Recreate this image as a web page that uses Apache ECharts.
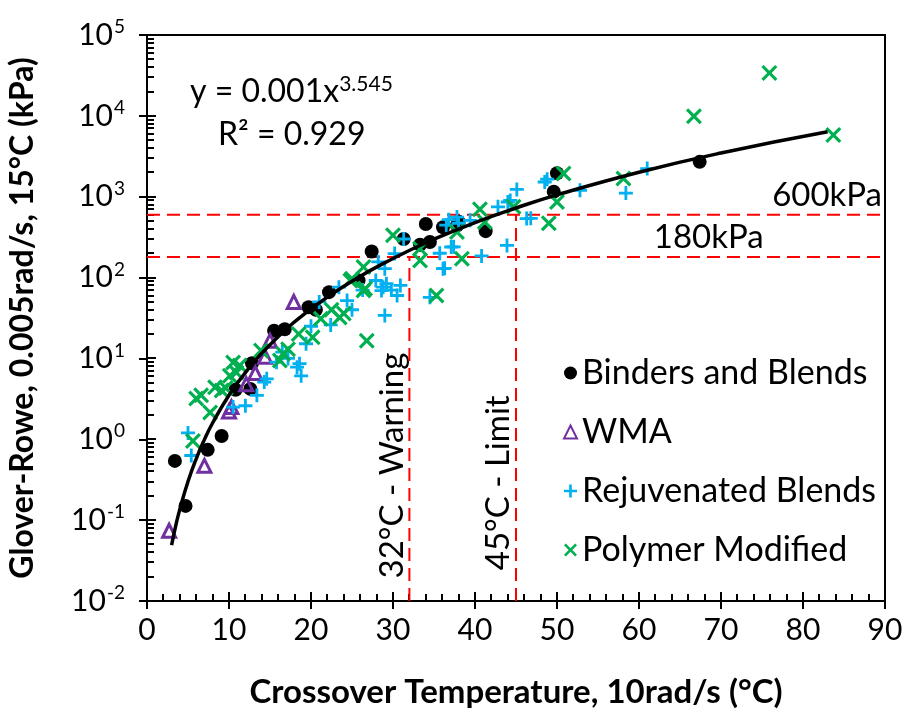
<!DOCTYPE html>
<html><head><meta charset="utf-8">
<script src="https://cdn.jsdelivr.net/npm/echarts@6/dist/echarts.min.js"></script>
<style>html,body{margin:0;padding:0;background:#fff}#c{width:912px;height:712px}</style>
</head><body><div id="c"></div>
<script>
// ---- data ----
const binders = [[3.4,0.54],[4.7,0.15],[7.4,0.74],[9.1,1.1],[10.8,4.1],[12.6,4.2],[12.8,8.7],[15.5,22],[16.8,23],[19.7,43],[20.6,40],[22.2,66],[25.8,92],[27.4,210],[31.3,300],[33.3,255],[34.0,460],[34.5,275],[36.1,420],[37.8,440],[38.0,490],[41.3,375],[49.6,1150],[50.0,1950],[67.4,2700]];
const wma = [[2.7,0.074],[7.0,0.47],[10.0,2.2],[10.3,2.5],[12.1,4.8],[13.2,6.6],[14.4,10.5],[15.0,16.5],[17.9,50]];
const rejuvenated = [[5.0,1.2],[5.4,0.63],[10.5,2.5],[12.0,2.6],[13.4,3.5],[14.3,5.1],[14.6,5.6],[15.8,9],[16.5,12],[17.2,10],[18.3,7.8],[18.6,8.6],[18.8,6.1],[19.4,15.2],[20.0,25],[21.0,50],[22.4,26],[23.4,76],[24.4,52],[25.0,40],[26.3,70],[27.9,92],[28.2,156],[28.6,69],[28.8,76],[29.0,34],[29.0,129],[29.2,84],[29.8,70],[30.2,198],[30.5,60],[30.9,80],[31.3,300],[34.5,57],[35.7,200],[36.1,129],[36.3,130],[36.5,445],[36.8,520],[37.1,239],[37.4,240],[37.8,560],[38.0,470],[39.4,510],[40.8,185],[42.8,750],[43.9,250],[44.0,860],[44.3,900],[45.1,1230],[46.3,537],[46.8,540],[48.5,1520],[48.8,1650],[52.8,1200],[58.4,1110],[61.0,2230]];
const polymer = [[5.6,0.95],[6.0,3.2],[6.6,3.5],[7.7,2.15],[8.3,4.4],[9.1,4.0],[9.6,4.3],[10.1,6.1],[10.5,8.9],[10.9,6.7],[11.3,8.2],[13.9,12.5],[16.2,9.4],[16.6,11.4],[17.2,13],[18.5,20],[20.2,18.3],[21.2,31],[22.5,40],[23.5,32],[24.0,36],[24.8,92],[25.0,97],[26.4,135],[26.4,69],[26.6,73],[26.8,16.5],[30.0,333],[33.3,228],[33.3,163],[35.3,60],[37.8,366],[38.4,171],[40.6,700],[41.2,487],[44.7,750],[49.0,470],[50.0,860],[50.8,1940],[58.1,1680],[66.7,9900],[75.9,34000],[83.7,5800]];
// power trend line y = 0.001x^3.545 (values as drawn)
const trendX = [3,3.5,4,5,6,7,8,10,12,15,20,25,30,35,40,45,50,60,70,83];
const trendY = [0.0491,0.0849,0.136,0.300,0.574,0.990,1.59,3.51,6.69,14.8,40.9,90.3,172,298,478,725,1054,2011,3472,6350];
// limit lines
const hLineValues = [600, 180];
const vLine32 = [[32,0.01],[32,180]];
const vLine45 = [[45,0.01],[45,600]];
const xRange = [0, 90];
const yRange = [0.01, 100000];

const FONT = 'Lato';
const PLUS = 'path://M4,0H6V4H10V6H6V10H4V6H0V4H4Z';
const CROSS = 'path://M0,1.4L1.4,0L5,3.6L8.6,0L10,1.4L6.4,5L10,8.6L8.6,10L5,6.4L1.4,10L0,8.6L3.6,5Z';

const chart = echarts.init(document.getElementById('c'));
const trend = trendX.map((x,i)=>[x,trendY[i]]);
const dash = {color:'#ff0000', width:2, type:[13,7]};

chart.setOption({
  animation:false,
  grid:{left:147, right:27, top:35, bottom:111, show:true, borderColor:'#000', borderWidth:2, outerBoundsMode:'none', containLabel:false},
  xAxis:{type:'value', min:xRange[0], max:xRange[1], interval:10,
    axisLine:{lineStyle:{color:'#000', width:2}},
    axisTick:{inside:false, length:8, lineStyle:{color:'#000', width:2}},
    splitLine:{show:false},
    axisLabel:{color:'#000', fontFamily:FONT, fontSize:30, margin:14},
    name:'Crossover Temperature, 10rad/s (°C)', nameLocation:'middle', nameGap:75,
    nameTextStyle:{color:'#000', fontFamily:FONT, fontSize:33, fontWeight:'bold'}
  },
  yAxis:{type:'log', min:yRange[0], max:yRange[1], logBase:10,
    axisLine:{lineStyle:{color:'#000', width:2}},
    axisTick:{inside:false, length:8, lineStyle:{color:'#000', width:2}},
    splitLine:{show:false},
    axisLabel:{color:'#000', fontFamily:FONT, margin:22,
      formatter:function(v){ const e=Math.round(Math.log10(v)); return '{b|10}{s|'+e+'}'; },
      rich:{b:{fontSize:30, fontFamily:FONT, color:'#000'}, s:{fontSize:19, fontFamily:FONT, color:'#000', verticalAlign:'top', padding:[0,0,16,1]}}},
    name:'Glover-Rowe, 0.005rad/s, 15°C (kPa)', nameLocation:'middle', nameGap:108,
    nameTextStyle:{color:'#000', fontFamily:FONT, fontSize:32, fontWeight:'bold'}
  },
  legend:{orient:'vertical', left:558, top:348, itemGap:19, itemWidth:13, itemHeight:13,
    textStyle:{color:'#000', fontFamily:FONT, fontSize:34, lineHeight:40},
    data:[{name:'Binders and Blends', icon:'circle'},{name:'WMA', icon:'triangle'},{name:'Rejuvenated Blends', icon:PLUS},{name:'Polymer Modified', icon:CROSS}]
  },
  series:[
    {type:'line', data:[[xRange[0],hLineValues[0]],[xRange[1],hLineValues[0]]], symbol:'none', silent:true, lineStyle:dash, z:1},
    {type:'line', data:[[xRange[0],hLineValues[1]],[xRange[1],hLineValues[1]]], symbol:'none', silent:true, lineStyle:dash, z:1},
    {type:'line', data:vLine32, symbol:'none', silent:true, lineStyle:dash, z:1},
    {type:'line', data:vLine45, symbol:'none', silent:true, lineStyle:dash, z:1},
    {name:'Binders and Blends', type:'scatter', data:binders, symbol:'circle', symbolSize:14, itemStyle:{color:'#000', opacity:1}, z:3},
    {name:'WMA', type:'scatter', data:wma, symbol:'triangle', symbolSize:13, itemStyle:{color:'rgba(255,255,255,0)', borderColor:'#7030A0', borderWidth:3, opacity:1}, z:3},
    {name:'Rejuvenated Blends', type:'scatter', data:rejuvenated, symbol:PLUS, symbolSize:14, itemStyle:{color:'#00B0F0', opacity:1}, z:3},
    {name:'Polymer Modified', type:'scatter', data:polymer, symbol:CROSS, symbolSize:16, itemStyle:{color:'#00B050', opacity:1}, z:3},
    {type:'line', data:trend, smooth:true, symbol:'none', silent:true, lineStyle:{color:'#000', width:3.5}, z:5}
  ]
});

// axis tick decorations (inside parts and minor ticks) placed through the chart's scales
const gfx = [];
function tickH(x, y, len){ // horizontal tick going right from the y axis
  gfx.push({type:'rect', shape:{x:Math.round(x), y:Math.round(y) - 1, width:len, height:2}, style:{fill:'#000'}});
}
function tickV(x, y, len){ // vertical tick going up from the x axis
  gfx.push({type:'rect', shape:{x:Math.round(x) - 1, y:Math.round(y) - len, width:2, height:len}, style:{fill:'#000'}});
}
const kMin = Math.round(Math.log10(yRange[0])), kMax = Math.round(Math.log10(yRange[1]));
for (let k=kMin; k<=kMax; k++){
  const pm = chart.convertToPixel({gridIndex:0}, [xRange[0], Math.pow(10,k)]);
  tickH(pm[0], pm[1], 9);
  if (k < kMax) {
    for (let m=2;m<10;m++){
      const p = chart.convertToPixel({gridIndex:0}, [xRange[0], m*Math.pow(10,k)]);
      tickH(p[0], p[1], 7);
    }
  }
}
for (let x=xRange[0]; x<=xRange[1]; x+=2){
  const p = chart.convertToPixel({gridIndex:0}, [x, yRange[0]]);
  tickV(p[0], p[1], (x % 10 === 0) ? 9 : 7);
}

const p600 = chart.convertToPixel({gridIndex:0}, [90, 600]);
const p180 = chart.convertToPixel({gridIndex:0}, [68.5, 180]);
const p32 = chart.convertToPixel({gridIndex:0}, [29.9, 0.019]);
const p45 = chart.convertToPixel({gridIndex:0}, [42.9, 0.024]);
const txt = {fill:'#000', fontFamily:FONT, fontSize:33};
gfx.push(
  {type:'text', x:p600[0]-3, y:p600[1]-3, style:Object.assign({text:'600kPa', align:'right', verticalAlign:'bottom'}, txt)},
  {type:'text', x:p180[0], y:p180[1]-3, style:Object.assign({text:'180kPa', align:'center', verticalAlign:'bottom'}, txt)},
  {type:'text', x:p32[0], y:p32[1], rotation:Math.PI/2, style:Object.assign({text:'32°C - Warning', align:'left', verticalAlign:'middle'}, txt)},
  {type:'text', x:p45[0], y:p45[1], rotation:Math.PI/2, style:Object.assign({text:'45°C - Limit', align:'left', verticalAlign:'middle'}, txt)},
  {type:'text', x:190, y:92, style:{text:'y = 0.001x{s|3.545}', verticalAlign:'middle', fill:'#000', fontFamily:FONT, fontSize:32, rich:{s:{fontSize:21, fontFamily:FONT, fill:'#000', verticalAlign:'top', padding:[0,0,16,0]}}}},
  {type:'text', x:218, y:135, style:{text:'R² = 0.929', verticalAlign:'middle', fill:'#000', fontFamily:FONT, fontSize:32}}
);
chart.setOption({graphic:{elements:gfx}});
</script></body></html>
